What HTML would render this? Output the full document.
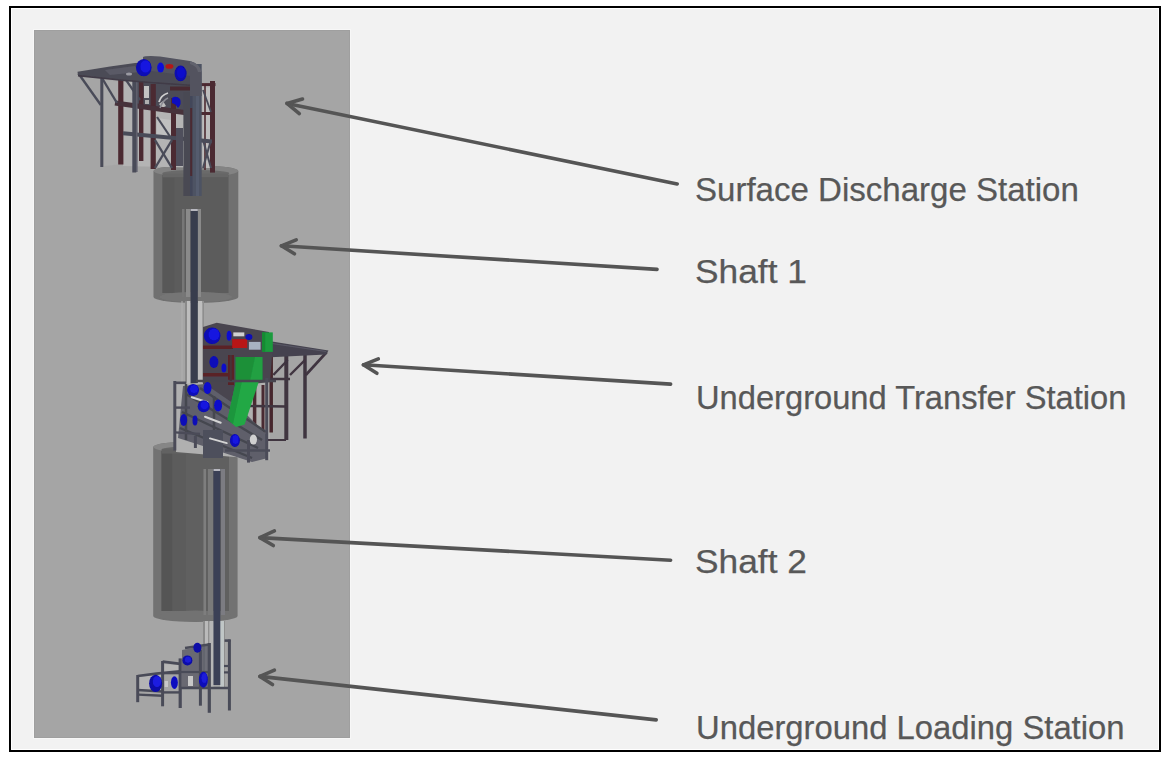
<!DOCTYPE html>
<html><head><meta charset="utf-8">
<style>
html,body{margin:0;padding:0;background:#fff;width:1170px;height:761px;overflow:hidden}
#frame{position:absolute;left:9px;top:6px;width:1148px;height:742px;border:2px solid #000;background:#f2f2f2;box-shadow:inset 0 0 0 1px #fff}
#panel{position:absolute;left:34px;top:30px;width:316px;height:708px;background:#a5a5a5;box-shadow:0 0 0 1px #f7f7f7,inset 0 0 0 1px #9f9f9f}
svg{position:absolute;left:0;top:0}
text{font-family:"Liberation Sans",sans-serif;font-size:33.4px;fill:#585858;stroke:#585858;stroke-width:0.25px}
</style></head><body>
<div id="frame"></div>
<div id="panel"></div>
<svg width="1170" height="761" viewBox="0 0 1170 761">
<defs><filter id="soft" x="-5%" y="-5%" width="110%" height="110%"><feGaussianBlur stdDeviation="0.45"/></filter></defs>
<g id="model" filter="url(#soft)">
<!-- ===== SHAFT 1 CYLINDER ===== -->
<g id="shaft1">
  <path d="M153.5 171 L153.5 297 A42.4 6 0 0 0 238.3 297 L238.3 171 A42.4 5.5 0 0 0 153.5 171 Z" fill="#6f6f6f"/>
  <rect x="162.5" y="175" width="66" height="118" fill="#5c5c5c"/>
  <rect x="162.5" y="175" width="12" height="118" fill="#595959"/>
  <ellipse cx="195.9" cy="297" rx="36.5" ry="5.2" fill="#747474"/>
  <ellipse cx="195.9" cy="171" rx="42.4" ry="5.6" fill="#838383"/>
  <ellipse cx="195.9" cy="173.2" rx="33.5" ry="3.2" fill="#6a6a6a"/>
  <rect x="162.5" y="173.2" width="66" height="4" fill="#666666"/>
</g>
<!-- ===== SHAFT 2 CYLINDER ===== -->
<g id="shaft2">
  <path d="M153.2 447 L153.2 616 A42.2 6 0 0 0 237.6 616 L237.6 447 A42.2 5.5 0 0 0 153.2 447 Z" fill="#727272"/>
  <rect x="161.5" y="451" width="67.5" height="160" fill="#606060"/>
  <rect x="161.5" y="451" width="11" height="160" fill="#555555"/>
  <rect x="172.5" y="451" width="13.5" height="160" fill="#5b5b5b"/>
  <ellipse cx="195.4" cy="616" rx="36" ry="5.5" fill="#727272"/>
  <ellipse cx="195.4" cy="447" rx="42.2" ry="5.6" fill="#868686"/>
  <ellipse cx="195.4" cy="449.5" rx="33.7" ry="3.3" fill="#666666"/>
  <rect x="161.5" y="449.5" width="67.5" height="4" fill="#626262"/>
</g>
<!-- ===== CONVEYOR 1 ===== -->
<g id="conv1">
  <rect x="182" y="209" width="2.5" height="88" fill="#777777"/>
  <rect x="186" y="209" width="4.5" height="88" fill="#8a8a8a"/>
  <rect x="197.5" y="209" width="3.5" height="88" fill="#8a8a8a"/>
  <rect x="181.5" y="301" width="1" height="88" fill="#b0b0b0"/>
  <rect x="185" y="301" width="2" height="88" fill="#8a8a8a"/>
  <rect x="187" y="301" width="3.6" height="88" fill="#bdbdbd"/>
  <rect x="198" y="301" width="4.5" height="84" fill="#bebebe"/>
  <rect x="202.5" y="301" width="1.5" height="84" fill="#8e8e8e"/>
  <rect x="190.6" y="209" width="7.2" height="183" fill="#383e4e"/>
  <rect x="190.6" y="209" width="7.2" height="2" fill="#b8b8c0"/>
</g>
<!-- ===== CONVEYOR 2 ===== -->
<g id="conv2">
  <rect x="203.5" y="469" width="2.5" height="146" fill="#7e7e7e"/>
  <rect x="208" y="469" width="5" height="146" fill="#7a7a7a"/>
  <rect x="221" y="469" width="4" height="146" fill="#7c7c82"/>
  <rect x="203" y="621" width="2" height="68" fill="#8a8a8a"/>
  <rect x="205" y="621" width="3" height="68" fill="#bababa"/>
  <rect x="208" y="621" width="1.5" height="68" fill="#909090"/>
  <rect x="209.5" y="621" width="4" height="68" fill="#b6b6b6"/>
  <rect x="220" y="621" width="4" height="68" fill="#c0c6c6"/>
  <rect x="224" y="621" width="1" height="68" fill="#8e8e8e"/>
  <rect x="213.5" y="469" width="6.8" height="216" fill="#3a4056"/>
  <rect x="213.5" y="469" width="6.8" height="2" fill="#b8b8c0"/>
</g>
<g id="topstation">
  <!-- light backdrop within structure -->
  <path d="M104 80 L123 82 L123 164 L104 166 Z" fill="#ababab"/>
  <path d="M123 82 L212 84 L212 168 L123 166 Z" fill="#b4b4b4"/>
    <path d="M157 118 L171 120 L171 137 L157 136 Z" fill="#c0c0c0"/>
  <path d="M203 88 L211 88 L211 168 L203 168 Z" fill="#bdbdbd"/>
  <!-- dark mass under head -->
  <path d="M137 79 L201 86 L201 112 L186 114 L137 106 Z" fill="#4b4b57"/>
  <rect x="144" y="86" width="5" height="12" fill="#c2c2c2"/>
  <rect x="145" y="100" width="4" height="4" fill="#b0b0b0"/>
  <path d="M159 104 L163 101 L166 106 L162 108 Z" fill="#bcbcbc"/>
  <line x1="170" y1="88.5" x2="192" y2="88.5" stroke="#4a2a30" stroke-width="4"/>
  <!-- red steel -->
  <g stroke="#4c2930" stroke-linecap="butt" fill="none">
    <line x1="201" y1="84.6" x2="215.5" y2="84.6" stroke-width="3"/>
    <line x1="212.5" y1="81" x2="212.5" y2="172.6" stroke-width="5"/>
    <line x1="205" y1="84" x2="205" y2="170" stroke-width="1.6"/>
    <line x1="173.5" y1="98" x2="173.5" y2="170" stroke-width="5"/>
    <line x1="153.2" y1="84" x2="153.2" y2="169" stroke-width="5.2"/>
    <line x1="141.2" y1="82" x2="141.2" y2="161" stroke-width="4.4"/>
    <line x1="120.8" y1="80" x2="120.8" y2="164.5" stroke-width="5.2"/>
    <line x1="200" y1="113.5" x2="215" y2="113.5" stroke-width="3"/>
    <line x1="115" y1="103" x2="188" y2="113" stroke-width="5" stroke="#46303a"/>
  </g>
  <!-- gray steel -->
  <g stroke="#4a4b59" stroke-linecap="butt" fill="none">
    <line x1="155" y1="140" x2="172" y2="168" stroke-width="2.4"/>
    <line x1="155" y1="168" x2="172" y2="140" stroke-width="2.4"/>
    <line x1="157" y1="117" x2="171" y2="138" stroke-width="2.2"/>
    <line x1="126" y1="80" x2="140" y2="100" stroke-width="2.2"/>
    <line x1="203" y1="140" x2="211" y2="168" stroke-width="2"/>
    <line x1="203" y1="168" x2="211" y2="140" stroke-width="2"/>
    <line x1="203" y1="90" x2="211" y2="112" stroke-width="1.8"/>
    <line x1="123" y1="133.3" x2="212" y2="141.5" stroke-width="4"/>
    <path d="M176 128 L183 128 L183 166 L176 166 Z" fill="#50505c" stroke="none"/>
    <line x1="78.5" y1="73.5" x2="100.8" y2="105" stroke-width="2.4"/>
    <line x1="102.6" y1="79" x2="117" y2="103" stroke-width="2.4"/>
    <line x1="101.8" y1="76" x2="101.8" y2="167" stroke-width="3"/>
    <line x1="134.3" y1="80" x2="134.3" y2="172.5" stroke-width="4"/>
      </g>
  <line x1="136.8" y1="82" x2="136.8" y2="172" stroke="#5e5f6c" stroke-width="1.6"/>
  <!-- pulley arcs -->
  <path d="M159 102 Q161 95 168 93" fill="none" stroke="#d0d0d0" stroke-width="1.8"/>
  <path d="M160 108 Q163 100 168 98" fill="none" stroke="#8c8c94" stroke-width="1.5"/>
  <!-- platform deck -->
  <path d="M77.5 71.8 L110 66.5 L135 63 L150 62 L200 70 L201 86 L150 82.5 L120 80 L100 77.5 L78 75.6 Z" fill="#4b4b56"/>
  <path d="M105 70 L135 66 L140 72 L110 75 Z" fill="#5a5a66"/>
  <path d="M78 75.6 L120 80 L150 82.5 L201 86" fill="none" stroke="#413a46" stroke-width="1.6"/>
  <ellipse cx="129" cy="74" rx="3" ry="1.5" fill="#9a9aa2"/>
  <!-- conveyor column -->
  <rect x="183.4" y="92" width="8" height="104" fill="#484953"/>
  <rect x="190" y="64" width="11.7" height="132" fill="#4d5363"/>
  <rect x="190" y="64" width="2.6" height="132" fill="#43465a"/>
  <line x1="191.2" y1="108" x2="191.2" y2="176" stroke="#4c2a30" stroke-width="2"/>
  <rect x="196" y="70" width="3" height="126" fill="#555c6e"/>
  <!-- head -->
  <path d="M143 57 Q146 55.5 160 56.5 L190 61 Q200 63.5 201.5 72 L201.7 96 L190 96 L190 76 L143 70 Z" fill="#52535f"/>
  <path d="M190 61 Q200 63.5 201.5 72 L198 72 Q197 66 190 64 Z" fill="#62636e"/>
  <!-- motors -->
  <ellipse cx="143.8" cy="67.6" rx="7.8" ry="8.6" fill="#0808b4"/>
  <ellipse cx="145.5" cy="66.5" rx="5.2" ry="6.2" fill="#1414e0"/>
  <ellipse cx="160.6" cy="67.6" rx="3.4" ry="5" fill="#1010d8"/>
  <ellipse cx="169.4" cy="66.4" rx="4" ry="2.4" fill="#b41818"/>
  <ellipse cx="180.6" cy="73.4" rx="6" ry="7.8" fill="#0808b0"/>
  <ellipse cx="181" cy="72.5" rx="4" ry="5.5" fill="#1010cc"/>
  <path d="M172 98 Q176 95 180 99 Q182 104 178 108 Q176 104 172 103 Z" fill="#0b0bc0"/>
</g>
<g id="midstation">
  <!-- light backdrop -->
  <path d="M176 384 L270 380 L270 460 L176 452 Z" fill="#b0b0b0"/>
  <!-- right platform legs / braces -->
  <g stroke="#3f3440" fill="none" stroke-linecap="butt">
    <line x1="286.3" y1="352" x2="286.3" y2="440" stroke-width="4"/>
    <line x1="305" y1="352" x2="305" y2="438.5" stroke-width="3.5"/>
    <line x1="271.2" y1="352" x2="271.2" y2="432.5" stroke-width="3.5" stroke="#47282e"/>
    <line x1="254.6" y1="385" x2="254.6" y2="430" stroke-width="3.5" stroke="#4a2a30"/>
    <line x1="263" y1="385" x2="263" y2="440" stroke-width="3" stroke="#4a2a30"/>
    <line x1="326.8" y1="352" x2="305.8" y2="375" stroke-width="2.6"/>
    <line x1="273.3" y1="375" x2="287.7" y2="360" stroke-width="2.4"/>
    <line x1="290" y1="375" x2="305" y2="360" stroke-width="2.4"/>
    <line x1="240" y1="379" x2="290" y2="379" stroke-width="2.6"/>
    <line x1="248" y1="406" x2="286" y2="406.5" stroke-width="2.4"/>
    <line x1="268" y1="440" x2="286" y2="440" stroke-width="2"/>
  </g>
  <!-- platform deck -->
  <path d="M266 341.5 L272 341.5 L328.5 350.5 L326 354.5 L266 357.5 Z" fill="#45434f"/>
  <path d="M272 343.5 L326 351.5" stroke="#5a5866" stroke-width="1.2"/>
  <!-- main body -->
  <path d="M203 327 L216.7 322.8 L269 332 L272 355 L270 382 L236 386 L228 420 L203 404 Z" fill="#4a4550"/>
  <rect x="203" y="345.5" width="30" height="3.5" fill="#5a2328"/>
  <rect x="203" y="373" width="30" height="3.5" fill="#5a2328"/>
  <rect x="228" y="355" width="6" height="30" fill="#5a2328"/>
  <!-- belt framework (dense) -->
  <path d="M183 386 L205 384 L240 408 L268 436 L268 458 L252 462 L203 446 L178 438 Z" fill="#5e5f6a"/>
  <g stroke="#45464f" stroke-width="2.4" fill="none">
    <line x1="186" y1="394" x2="262" y2="440"/>
    <line x1="180" y1="428" x2="252" y2="458"/>
    <line x1="200" y1="388" x2="266" y2="432"/>
    <line x1="182" y1="412" x2="258" y2="448"/>
    <line x1="214" y1="396" x2="214" y2="446"/>
    <line x1="186" y1="384" x2="186" y2="440"/>
  </g>
  <path d="M203 430 L223 430 L223 458 L203 458 Z" fill="#4e505c"/>
  <!-- green box -->
  <rect x="262.2" y="332.4" width="10.6" height="19.5" fill="#1a9b3d"/>
  <rect x="262.2" y="332.4" width="3" height="19.5" fill="#158a33"/>
  <!-- red box + light -->
  <rect x="232.2" y="339.1" width="15" height="8.9" fill="#b81414"/>
  <rect x="233.3" y="332.4" width="11" height="3.9" fill="#d0d0d0"/>
  <rect x="248.9" y="341.9" width="11.7" height="7.8" fill="#a8b2c2"/>
  <ellipse cx="248.9" cy="336.9" rx="3.5" ry="3" fill="#0c0cb8"/>
  <!-- motors top -->
  <ellipse cx="212.2" cy="335.8" rx="8.3" ry="8.3" fill="#0808b4"/>
  <ellipse cx="214" cy="334.5" rx="5.5" ry="6" fill="#1414e0"/>
  <ellipse cx="229.1" cy="335.8" rx="2.5" ry="5" fill="#1010d0"/>
  <ellipse cx="213.9" cy="361.9" rx="4.5" ry="6" fill="#0c0cb8"/>
  <ellipse cx="223.9" cy="368" rx="2.5" ry="4.5" fill="#1010c8"/>
  <!-- green chute -->
  <path d="M235.5 357 L262.4 357 L262.4 381 L235.5 381 Z" fill="#1b9039"/>
  <path d="M255 357 L262.4 357 L262.4 381 L250 381 Z" fill="#20a042"/>
  <path d="M236 381 L259 381 L244.6 424.5 L236 427 L227.5 419.5 Z" fill="#22a845"/>
  <path d="M236 381 L242 381 L233 424 L227.5 419.5 Z" fill="#1c963c"/>
  <line x1="196" y1="381" x2="276" y2="381" stroke="#46444f" stroke-width="2.6"/>
  <line x1="230.8" y1="355" x2="230.8" y2="381" stroke="#4a3038" stroke-width="2.2"/>
  <!-- left frame -->
  <g stroke="#4b4c59" fill="none" stroke-linecap="butt">
    <line x1="174.8" y1="381" x2="174.8" y2="450.5" stroke-width="3"/>
    <line x1="174" y1="382.8" x2="186" y2="382.8" stroke-width="2.6"/>
    <line x1="175" y1="407.6" x2="190" y2="407.6" stroke-width="2.4"/>
    <line x1="175" y1="432.4" x2="200" y2="434" stroke-width="2.4"/>
    <line x1="266.7" y1="378" x2="266.7" y2="460.2" stroke-width="3"/>
    <line x1="248.5" y1="440" x2="248.5" y2="462.6" stroke-width="3"/>
    <line x1="195.4" y1="436" x2="195.4" y2="448" stroke-width="3"/>
    <line x1="225" y1="450.5" x2="270" y2="450.5" stroke-width="2.4"/>
  </g>
  <!-- white highlights -->
  <g stroke="#d4d4d4" stroke-linecap="round" fill="none">
    <line x1="191.7" y1="397.3" x2="207.5" y2="402.2" stroke-width="2"/>
    <line x1="205" y1="416.7" x2="220.7" y2="422.7" stroke-width="2"/>
    <line x1="209.9" y1="438.4" x2="226.8" y2="443.2" stroke-width="1.8"/>
  </g>
  <ellipse cx="253.4" cy="439.6" rx="3.6" ry="5" fill="#d0d0d0"/>
  <!-- motors lower -->
  <ellipse cx="193.1" cy="390" rx="6" ry="6" fill="#0808b8"/>
  <ellipse cx="194" cy="389" rx="4" ry="4" fill="#1414e0"/>
  <ellipse cx="207.5" cy="388.1" rx="4" ry="6" fill="#0d0dcc"/>
  <ellipse cx="203.7" cy="406.2" rx="6" ry="6" fill="#0808b8"/>
  <ellipse cx="204.5" cy="405.2" rx="4" ry="4" fill="#1414e0"/>
  <ellipse cx="218.1" cy="405.6" rx="4" ry="6" fill="#0d0dcc"/>
  <ellipse cx="183.7" cy="420" rx="3.5" ry="6" fill="#0b0bb8"/>
  <ellipse cx="195" cy="420.6" rx="2.5" ry="5" fill="#0b0bb8"/>
  <ellipse cx="234.9" cy="440.5" rx="5" ry="6.5" fill="#0808b8"/>
  <ellipse cx="235.5" cy="439.5" rx="3.2" ry="4.5" fill="#1414e0"/>
</g>
<g id="botstation">
  <!-- light gaps -->
  <path d="M139 677 L161 674 L161 690 L139 689 Z" fill="#b4b4b4"/>
  <path d="M164 664 L179 665 L179 672 L164 673 Z" fill="#b6b6b6"/>
  <!-- mid dense area -->
  <path d="M182 650 L209 645 L209 688 L182 688 Z" fill="#5a5b66" opacity="0.8"/>
  <rect x="188" y="676" width="5" height="10" fill="#c8c8c8"/>
  <rect x="164.5" y="681" width="3.5" height="6" fill="#c8c8c8"/>
  <g stroke="#4a4b58" fill="none" stroke-linecap="butt">
    <line x1="137.7" y1="675" x2="137.7" y2="702.2" stroke-width="3"/>
    <polyline points="137.7,676 156.4,673.6 180,671.2" stroke-width="2.6"/>
    <line x1="162.6" y1="661" x2="162.6" y2="706.3" stroke-width="3"/>
    <line x1="162.6" y1="661.6" x2="180.3" y2="663.9" stroke-width="2.6"/>
    <line x1="180.2" y1="658.4" x2="180.2" y2="708" stroke-width="3.2"/>
    <line x1="137.7" y1="690" x2="162.6" y2="691.5" stroke-width="2.4"/>
    <line x1="138" y1="694.6" x2="162.6" y2="695.8" stroke-width="2.4"/>
    <line x1="162.6" y1="692.4" x2="180" y2="692.4" stroke-width="2.4"/>
    <line x1="162.6" y1="673.2" x2="180" y2="673.2" stroke-width="2.2"/>
    <line x1="200.4" y1="650" x2="200.4" y2="705.7" stroke-width="3"/>
    <line x1="209.3" y1="643" x2="209.3" y2="712.8" stroke-width="3.2"/>
    <line x1="229.4" y1="639.5" x2="229.4" y2="710.5" stroke-width="3"/>
    <line x1="224.6" y1="640.6" x2="230.5" y2="640.6" stroke-width="2.6"/>
    <line x1="180" y1="688" x2="230" y2="688" stroke-width="2.6"/>
    <line x1="180" y1="672" x2="209" y2="672" stroke-width="2.2"/>
    <line x1="185" y1="648" x2="209" y2="644.5" stroke-width="2.4"/>
    <line x1="224" y1="666" x2="230" y2="666" stroke-width="2.2"/>
    <line x1="224" y1="672.4" x2="230" y2="672.4" stroke-width="2.2"/>
  </g>
  <ellipse cx="155.6" cy="683.4" rx="6.5" ry="8.6" fill="#0a0aa6"/>
  <ellipse cx="157" cy="681.5" rx="4.2" ry="5.5" fill="#1c1ce0"/>
  <ellipse cx="174.4" cy="682.6" rx="3.5" ry="6.3" fill="#0c0cc0"/>
  <ellipse cx="187.4" cy="660.4" rx="5" ry="5" fill="#0a0aa8"/>
  <ellipse cx="188" cy="659.6" rx="3.2" ry="3.2" fill="#1a1ad8"/>
  <ellipse cx="197.4" cy="647.8" rx="4" ry="5" fill="#0a0aa8"/>
  <ellipse cx="203.4" cy="679.7" rx="4.5" ry="8" fill="#0b0bb8"/>
  <ellipse cx="204.2" cy="678" rx="2.8" ry="5" fill="#1a1ad8"/>
</g>
</g>
<g id="arrows" stroke="#555555" stroke-width="3.6" stroke-linecap="round" stroke-linejoin="round" fill="none">
  <path d="M287.0 103.4 L677.2 184.0"/>
  <path d="M302.5 99.1 L287.0 103.4 L299.3 113.6"/>
  <path d="M287.0 103.4 L292.4 101.9 L291.3 107.0 Z" fill="#555555" stroke-width="2"/>
  <path d="M281.4 245.8 L657 269.4"/>
  <path d="M296.2 239.9 L281.4 245.8 L294.4 253.8"/>
  <path d="M281.4 245.8 L286.6 243.7 L285.9 248.6 Z" fill="#555555" stroke-width="2"/>
  <path d="M363.4 364.8 L670.6 384.1"/>
  <path d="M378.3 358.9 L363.4 364.8 L376.9 373.3"/>
  <path d="M363.4 364.8 L368.6 362.7 L368.1 367.8 Z" fill="#555555" stroke-width="2"/>
  <path d="M259.9 537.6 L670.6 560.2"/>
  <path d="M274.4 530.9 L259.9 537.6 L273.3 545.5"/>
  <path d="M259.9 537.6 L265.0 535.3 L264.6 540.4 Z" fill="#555555" stroke-width="2"/>
  <path d="M259.9 676.4 L656.2 719.9"/>
  <path d="M274.4 670.1 L259.9 676.4 L272.5 684.5"/>
  <path d="M259.9 676.4 L265.0 674.2 L264.3 679.2 Z" fill="#555555" stroke-width="2"/>
</g>
<g id="labels">
  <text x="695" y="201" textLength="383.8" lengthAdjust="spacingAndGlyphs">Surface Discharge Station</text>
  <text x="695" y="283" textLength="111.9" lengthAdjust="spacingAndGlyphs">Shaft 1</text>
  <text x="696" y="408.5" textLength="430.4" lengthAdjust="spacingAndGlyphs">Underground Transfer Station</text>
  <text x="695" y="572.5" textLength="111.9" lengthAdjust="spacingAndGlyphs">Shaft 2</text>
  <text x="696" y="738.5" textLength="428.5" lengthAdjust="spacingAndGlyphs">Underground Loading Station</text>
</g>
</svg>
</body></html>
